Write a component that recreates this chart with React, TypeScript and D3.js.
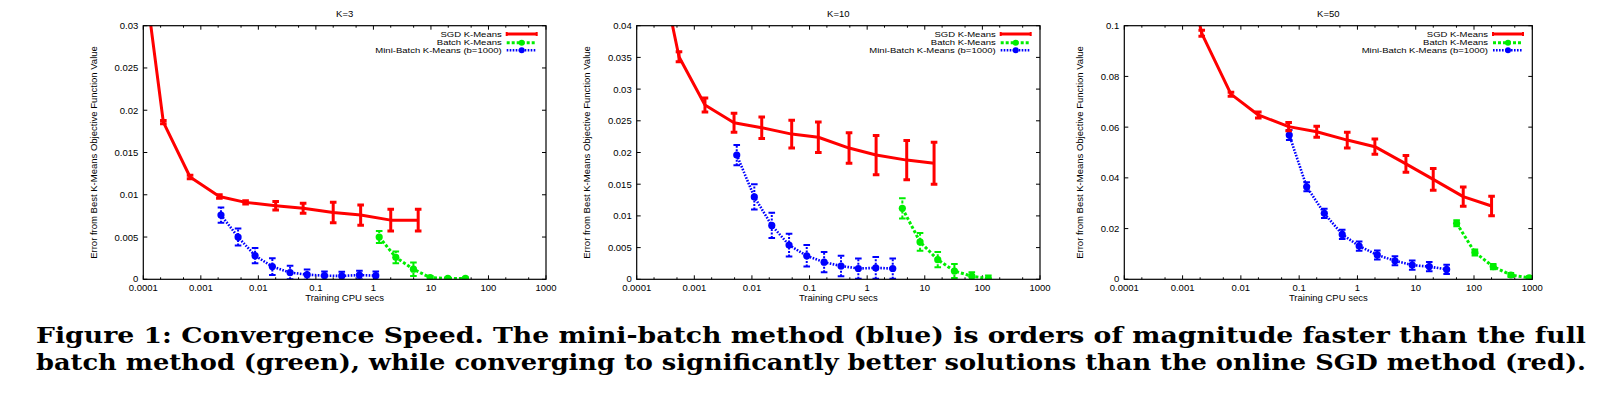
import React from "react"
import * as d3 from "d3"

const W = 1599
const H = 393
const TOP = 25.7
const BOTTOM = 279.3

const X_TICKS = [0.0001, 0.001, 0.01, 0.1, 1, 10, 100, 1000]
const Y_TICKS_K3 = [0, 0.005, 0.01, 0.015, 0.02, 0.025, 0.03]
const Y_TICKS_K10 = [0, 0.005, 0.01, 0.015, 0.02, 0.025, 0.03, 0.035, 0.04]
const Y_TICKS_K50 = [0, 0.02, 0.04, 0.06, 0.08, 0.1]

const LEGEND = ["SGD K-Means", "Batch K-Means", "Mini-Batch K-Means (b=1000)"]

// K=3
const k3SgdX = [0.00007, 0.000223, 0.00065, 0.0021, 0.006, 0.02, 0.06, 0.2, 0.6, 2, 6]
const k3SgdY = [0.045, 0.0186, 0.0121, 0.0098, 0.0091, 0.0087, 0.0084, 0.0079, 0.0076, 0.007, 0.007]
const k3SgdErr = [0.001, 0.0002, 0.0002, 0.0002, 0.0002, 0.0005, 0.0006, 0.0012, 0.0012, 0.0013, 0.0013]
const k3MbX = [0.00224, 0.00444, 0.00877, 0.0175, 0.0356, 0.0703, 0.141, 0.282, 0.571, 1.1]
const k3MbY = [0.0076, 0.005, 0.0028, 0.0015, 0.0008, 0.00055, 0.00043, 0.0004, 0.0005, 0.00043]
const k3MbErr = [0.0009, 0.001, 0.0009, 0.001, 0.0008, 0.0006, 0.0005, 0.0005, 0.0005, 0.0005]
const k3BatchX = [1.26, 2.45, 4.96, 9.7, 19.7, 39.8]
const k3BatchY = [0.005, 0.0026, 0.0012, 0.0002, 0.0001, 0.0001]
const k3BatchErr = [0.0007, 0.0007, 0.0008, 0.0002, 0.0001, 0.0001]

// K=10
const k10SgdX = [0.00018, 0.000542, 0.00153, 0.00489, 0.0148, 0.049, 0.142, 0.485, 1.43, 4.86, 14.5]
const k10SgdY = [0.056, 0.0351, 0.0275, 0.0247, 0.0239, 0.0229, 0.0224, 0.0207, 0.0196, 0.0188, 0.0183]
const k10SgdErr = [0.001, 0.0008, 0.0011, 0.0015, 0.0017, 0.0022, 0.0024, 0.0024, 0.0031, 0.0031, 0.0033]
const k10MbX = [0.00545, 0.011, 0.0221, 0.0441, 0.0894, 0.179, 0.352, 0.703, 1.41, 2.78]
const k10MbY = [0.0196, 0.013, 0.0085, 0.0054, 0.0037, 0.0027, 0.0021, 0.0017, 0.0018, 0.0017]
const k10MbErr = [0.0016, 0.002, 0.002, 0.0018, 0.0017, 0.0016, 0.0016, 0.0016, 0.0017, 0.0016]
const k10BatchX = [4.08, 8.28, 16.8, 32.7, 65.5, 127]
const k10BatchY = [0.0112, 0.0059, 0.0031, 0.0013, 0.0005, 0.0001]
const k10BatchErr = [0.0016, 0.0014, 0.0012, 0.0011, 0.0006, 0.0005]

// K=50
const k50SgdX = [0.0007, 0.00213, 0.00676, 0.0199, 0.066, 0.2, 0.668, 1.99, 6.79, 19.96, 65.3, 200]
const k50SgdY = [0.147, 0.097, 0.073, 0.0648, 0.0602, 0.0582, 0.0549, 0.0523, 0.0455, 0.0394, 0.0326, 0.0289]
const k50SgdErr = [0.001, 0.0012, 0.0008, 0.0012, 0.0016, 0.0022, 0.0031, 0.003, 0.0033, 0.0043, 0.0038, 0.0038]
const k50MbX = [0.0676, 0.1346, 0.27, 0.548, 1.07, 2.19, 4.4, 8.71, 17.06, 33.9]
const k50MbY = [0.0569, 0.0365, 0.026, 0.0177, 0.0131, 0.0096, 0.0073, 0.0056, 0.005, 0.0039]
const k50MbErr = [0.002, 0.0018, 0.0018, 0.0018, 0.0018, 0.0018, 0.0018, 0.0018, 0.0018, 0.0018]
const k50BatchX = [50.3, 103.5, 213.5, 429, 885]
const k50BatchY = [0.0221, 0.0106, 0.005, 0.0017, 0.0006]
const k50BatchErr = [0.0012, 0.0012, 0.001, 0.0008, 0.0006]

const CAPTION_1 =
  "Figure 1:  Convergence Speed.  The mini-batch method (blue) is orders of magnitude faster than the full"
const CAPTION_2 =
  "batch method (green), while converging to significantly better solutions than the online SGD method (red)."

const RED = "#ff0000"
const GREEN = "#00ee00"
const BLUE = "#0000ff"
const FONT = "'Liberation Sans', Arial, sans-serif"

const zip = (xs, ys, es) => xs.map((v, i) => ({ x: v, y: ys[i], e: es[i] }))

const PANELS = [
  {
    id: "k3", title: "K=3", left: 143.3, right: 546, yMax: 0.03, yTicks: Y_TICKS_K3, yLabelX: 93.3,
    sgd: zip(k3SgdX, k3SgdY, k3SgdErr), mb: zip(k3MbX, k3MbY, k3MbErr), batch: zip(k3BatchX, k3BatchY, k3BatchErr),
  },
  {
    id: "k10", title: "K=10", left: 636.7, right: 1040, yMax: 0.04, yTicks: Y_TICKS_K10, yLabelX: 586,
    sgd: zip(k10SgdX, k10SgdY, k10SgdErr), mb: zip(k10MbX, k10MbY, k10MbErr), batch: zip(k10BatchX, k10BatchY, k10BatchErr),
  },
  {
    id: "k50", title: "K=50", left: 1124.3, right: 1532.3, yMax: 0.1, yTicks: Y_TICKS_K50, yLabelX: 1079.3,
    sgd: zip(k50SgdX, k50SgdY, k50SgdErr), mb: zip(k50MbX, k50MbY, k50MbErr), batch: zip(k50BatchX, k50BatchY, k50BatchErr),
  },
]

function ErrorBars({ data, x, y, color, width, dash }) {
  return (
    <g stroke={color} strokeWidth={width} fill="none">
      {data.map((d, i) => {
        const cx = x(d.x)
        const y0 = y(d.y - d.e)
        const y1 = y(d.y + d.e)
        return (
          <g key={i}>
            <line x1={cx} x2={cx} y1={y0} y2={y1} strokeDasharray={dash} />
            <line x1={cx - 3.3} x2={cx + 3.3} y1={y0} y2={y0} />
            <line x1={cx - 3.3} x2={cx + 3.3} y1={y1} y2={y1} />
          </g>
        )
      })}
    </g>
  )
}

function Panel({ p }) {
  const x = d3.scaleLog().domain([1e-4, 1e3]).range([p.left, p.right])
  const y = d3.scaleLinear().domain([0, p.yMax]).range([BOTTOM, TOP])
  const line = d3.line().x((d) => x(d.x)).y((d) => y(d.y))
  const minor = X_TICKS.slice(0, -1).flatMap((t) => [t * 2, t * 5])
  const cx = (p.left + p.right) / 2
  const lgRight = p.right - 9.3
  const lgRows = [TOP + 8.3, TOP + 17, TOP + 24.6]

  return (
    <g>
      <defs>
        <clipPath id={"clip-" + p.id}>
          <rect x={p.left} y={TOP} width={p.right - p.left} height={BOTTOM - TOP} />
        </clipPath>
      </defs>
      <text x={cx} y={16.5} textAnchor="middle" fontSize={9.5} fontFamily={FONT}>{p.title}</text>
      <text x={cx} y={301} textAnchor="middle" fontSize={9.5} fontFamily={FONT}>Training CPU secs</text>
      <text
        transform={`translate(${p.yLabelX},${(TOP + BOTTOM) / 2}) rotate(-90)`}
        textAnchor="middle" dominantBaseline="central" fontSize={9.5} fontFamily={FONT}
      >
        Error from Best K-Means Objective Function Value
      </text>

      {/* ticks, inward on all sides */}
      <g stroke="#000" strokeWidth={1}>
        {X_TICKS.map((t) => (
          <g key={t}>
            <line x1={x(t)} x2={x(t)} y1={BOTTOM} y2={BOTTOM - 4} />
            <line x1={x(t)} x2={x(t)} y1={TOP} y2={TOP + 4} />
          </g>
        ))}
        {minor.map((t) => (
          <g key={t}>
            <line x1={x(t)} x2={x(t)} y1={BOTTOM} y2={BOTTOM - 2} />
            <line x1={x(t)} x2={x(t)} y1={TOP} y2={TOP + 2} />
          </g>
        ))}
        {p.yTicks.map((t) => (
          <g key={t}>
            <line x1={p.left} x2={p.left + 4} y1={y(t)} y2={y(t)} />
            <line x1={p.right} x2={p.right - 4} y1={y(t)} y2={y(t)} />
          </g>
        ))}
      </g>
      <g fontSize={9.5} fontFamily={FONT}>
        {X_TICKS.map((t) => (
          <text key={t} x={x(t)} y={BOTTOM + 11.5} textAnchor="middle">{String(t)}</text>
        ))}
        {p.yTicks.map((t) => (
          <text key={t} x={p.left - 5} y={t === 0 ? y(t) - 1 : y(t)} textAnchor="end" dominantBaseline="central">{String(t)}</text>
        ))}
      </g>

      <g clipPath={`url(#clip-${p.id})`}>
        <path d={line(p.batch)} fill="none" stroke={GREEN} strokeWidth={3} strokeDasharray="3,2" />
        <ErrorBars data={p.batch} x={x} y={y} color={GREEN} width={2} dash="3,2" />
        {p.batch.map((d, i) => <circle key={i} cx={x(d.x)} cy={y(d.y)} r={3.6} fill={GREEN} />)}

        <path d={line(p.mb)} fill="none" stroke={BLUE} strokeWidth={2.6} strokeDasharray="1.6,1.4" />
        <ErrorBars data={p.mb} x={x} y={y} color={BLUE} width={2} dash="2,1.5" />
        {p.mb.map((d, i) => <circle key={i} cx={x(d.x)} cy={y(d.y)} r={3.6} fill={BLUE} />)}

        <path d={line(p.sgd)} fill="none" stroke={RED} strokeWidth={3} strokeLinejoin="round" />
        <ErrorBars data={p.sgd} x={x} y={y} color={RED} width={3} dash="none" />
      </g>

      <rect x={p.left} y={TOP} width={p.right - p.left} height={BOTTOM - TOP} fill="none" stroke="#000" strokeWidth={1.2} />

      {/* legend: glyphs squashed vertically like the original figure */}
      <g fontSize={9.5} fontFamily={FONT}>
        {LEGEND.map((s, i) => (
          <text
            key={s}
            transform={`translate(${lgRight - 35},${lgRows[i]}) scale(1,0.8)`}
            textAnchor="end"
            dominantBaseline="central"
          >
            {s}
          </text>
        ))}
      </g>
      <g>
        <line x1={lgRight - 30} x2={lgRight} y1={lgRows[0]} y2={lgRows[0]} stroke={RED} strokeWidth={3} />
        <line x1={lgRight - 30} x2={lgRight - 30} y1={lgRows[0] - 2} y2={lgRows[0] + 2} stroke={RED} strokeWidth={2} />
        <line x1={lgRight} x2={lgRight} y1={lgRows[0] - 2} y2={lgRows[0] + 2} stroke={RED} strokeWidth={2} />
        <line x1={lgRight - 30} x2={lgRight} y1={lgRows[1]} y2={lgRows[1]} stroke={GREEN} strokeWidth={3} strokeDasharray="3,2" />
        <circle cx={lgRight - 15} cy={lgRows[1]} r={3} fill={GREEN} />
        <line x1={lgRight - 30} x2={lgRight} y1={lgRows[2]} y2={lgRows[2]} stroke={BLUE} strokeWidth={2.6} strokeDasharray="1.6,1.4" />
        <circle cx={lgRight - 15} cy={lgRows[2]} r={3} fill={BLUE} />
      </g>
    </g>
  )
}

export default function App() {
  return (
    <svg
      width={W}
      height={H}
      viewBox={`0 0 ${W} ${H}`}
      style={{ position: "absolute", left: 0, top: 0, background: "#fff" }}
    >
      {PANELS.map((p) => <Panel key={p.id} p={p} />)}
      <g fontFamily="'DejaVu Serif', 'Liberation Serif', serif" fontWeight="bold" fontSize={22}>
        <text x={36} y={343} textLength={1550} lengthAdjust="spacingAndGlyphs">{CAPTION_1}</text>
        <text x={36} y={370} textLength={1550} lengthAdjust="spacingAndGlyphs">{CAPTION_2}</text>
      </g>
    </svg>
  )
}
